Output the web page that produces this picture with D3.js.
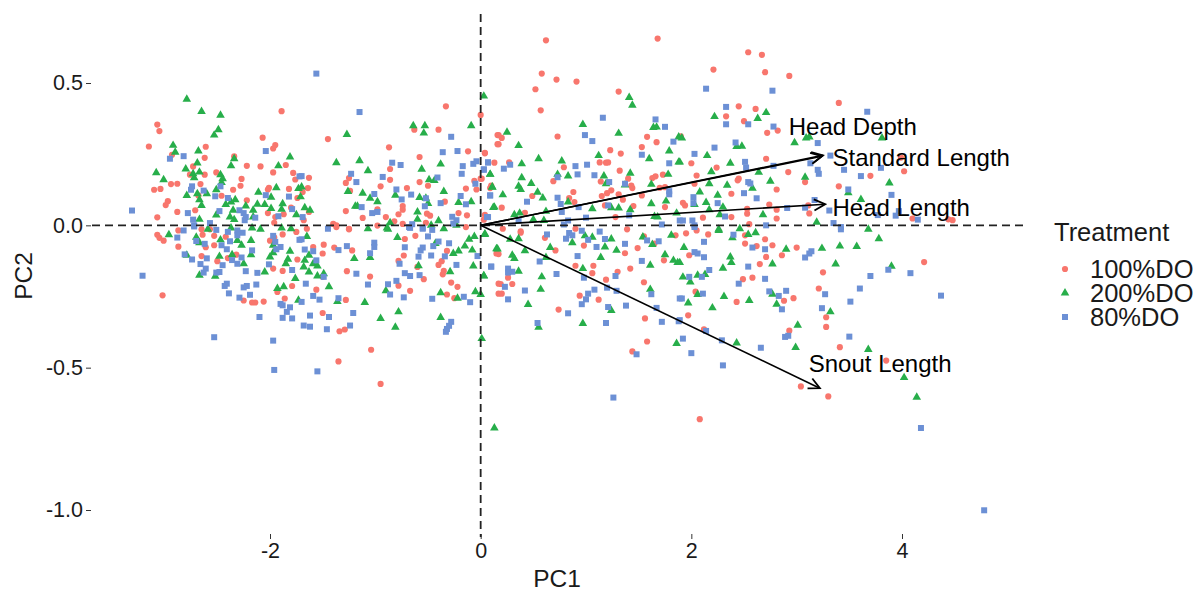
<!DOCTYPE html>
<html>
<head>
<meta charset="utf-8">
<script src="https://d3js.org/d3.v7.min.js"></script>
<style>
  body { margin: 0; background: #fff; }
  text { font-family: "Liberation Sans", Arial, sans-serif; fill: #1a1a1a; }
</style>
</head>
<body>
<div id="chart"></div>
<script>
// PC scores, one array per treatment
var do100 = [
[-3.07,.354],[-3.05,.331],[-3.15,.277],[-2.93,.248],[-2.61,.276],[-2.62,.237],[-1.89,.401],[-2.07,.308],[-1.95,.282],[-1.97,.27],[-2.34,.242],[-2.73,.207],[-2.22,.209],[-2.09,.207],[-1.97,.186],[-1.85,.212],[-1.78,.184],[-1.76,.161],[-2.51,.186],[-2.62,.178],[-2.76,.178],[-2.27,.163],[-2.28,.139],[-2.35,.125],[-2.66,.145],[-2.88,.146],[-2.94,.145],[-3.04,.128],[-3.1,.125],[-2.01,.132],[-2.02,.126],[-1.82,.128],[-1.74,.096],[-2.68,.105],[-2.46,.104],[-2.22,.088],[-2.97,.085],[-2.99,.071],[-2.71,.053],[-2.88,.047],[-3.07,.028],[-1.8,.062],[-2.02,.043],[-1.95,.029],[-1.96,.009],[-1.87,.039],
[-3.07,-.033],[-3.05,-.044],[-3.01,-.054],[-2.87,-.075],[-2.87,-.018],[-3.02,-.246],[-2.65,-.014],[-2.64,-.033],[-2.53,-.037],[-2.61,-.077],[-2.53,-.07],[-2.42,-.04],[-2.65,-.108],[-2.5,-.126],[-2.4,-.115],[-2.32,-.103],[-2,-.054],[-1.96,-.042],[-1.88,-.032],[-1.75,-.023],[-1.74,-.12],[-1.97,-.152],[-1.88,-.16],[-1.79,-.213],[-1.93,-.234],[-1.86,-.257],[-2.25,-.264],[-2.17,-.271],[-2.14,-.271],[-2.06,-.268],[-2.57,-.014],
[-.33,.418],[-.63,.336],[-.4,.336],[-1.45,.303],[-.87,.274],[.16,.317],[.16,.285],[-.12,.26],[.04,.253],[-.58,.24],[-.86,.198],[0,.388],[-1.63,.167],[-1.64,.131],[-1.69,.117],[-1.25,.166],[-1.28,.149],[-1.24,.121],[-.86,.16],[-.95,.137],[-.58,.152],[-.5,.139],[-.7,.131],[-.14,.129],[-.06,.156],[0,.164],[-.04,.126],[.1,.14],[-.98,.056],[-.74,.068],[-.74,.055],[-.78,.039],[-1.28,.05],[-1.12,.026],[-.9,.029],[-.82,.014],[-1.4,.005],[-1.37,0],[-.98,-.001],[-.74,.005],[-.52,.009],[-.51,.041],[-.48,.034],[-.34,.083],[-.21,.043],[-.13,.035],[.04,.037],[-1.63,.047],[-1.68,.018],[-.14,-.006],[-1.25,-.012],[-1.65,-.012],
[-1.37,-.006],[-1.25,-.014],[-.72,-.048],[-.62,-.037],[-1.49,-.068],[-1.59,-.076],[-1.39,-.078],[-1.22,-.088],[-1.5,-.099],[-.32,-.09],[-.78,-.125],[-.73,-.106],[-.6,-.146],[-.4,-.139],[-.37,-.126],[-.35,-.16],[-.36,-.172],[-1.27,-.161],[-1.05,-.18],[-.54,-.189],[-.78,-.212],[-.67,-.23],[-1.56,-.226],[-1.28,-.262],[-1.5,-.308],[-.28,-.201],[-.22,-.216],[-.32,-.243],[-.25,-.256],[-1.34,-.372],[-1.29,-.366],[-1.04,-.437],[-1.35,-.478],[-.95,-.557],[-1.5,-.181],[.17,-.24],[.17,-.205],[.15,-.099],
[.62,.65],[.58,.533],[.72,.512],[.91,.505],[.52,.478],[.57,.404],[1.31,.47],[1.68,.656],[.73,.312],[.17,.317],[.2,.307],[.17,.285],[.04,.255],[.13,.22],[.27,.221],[.01,.164],[.09,.131],[.2,.062],[.42,.044],[.79,.204],[.69,.155],[.49,.103],[.88,.117],[.84,.096],[1.23,.264],[1.33,.252],[1.13,.221],[1.19,.22],[1.21,.221],[1.32,.192],[1.14,.154],[1.4,.164],[1.43,.14],[1.44,.131],[1.24,.123],[1.2,.113],[1.15,.103],[1.31,.109],[1.35,.09],[1.53,.105],[1.18,.07],[1.45,.068],[1.28,.029],[1.58,.311],[1.67,.292],[1.53,.275],[1.63,.166],[1.66,.172],[1.73,.178],[1.7,.132],[1.75,.064],[.03,.02],[.21,-.012],[.38,-.021],[1.39,-.014],[1.75,.134],[.89,.082],
[.38,-.026],[.61,-.044],[.9,-.012],[1.55,-.039],[1.65,-.064],[1.85,-.035],[.71,-.088],[.98,-.071],[1.49,-.08],[1.37,-.098],[.17,-.101],[.9,-.142],[1.07,-.142],[1.06,-.168],[1.3,-.163],[1.42,-.152],[1.74,-.123],[1.19,-.191],[.26,-.184],[.19,-.206],[.3,-.206],[.2,-.24],[.94,-.247],[1.12,-.261],[.74,-.296],[1.55,-.2],[1.56,-.327],[1.58,-.408],[1.44,-.443],
[2.54,.608],[2.67,.599],[2.21,.547],[2.7,.538],[2.93,.525],[3.4,.43],[2.45,.418],[2.61,.409],[2.33,.383],[2.5,.366],[2.72,.325],[2.82,.333],[1.9,.313],[2.71,.234],[2,.218],[2.24,.203],[2.92,.187],[3.08,.152],[3.7,.174],[2.05,.175],[2.45,.164],[2.44,.158],[2.03,.146],[3.4,.137],[2.38,.111],[2.81,.126],[1.92,.079],[2.11,.027],[2.53,.058],[2.53,.041],[2.74,.073],[2.81,.055],[2.81,.024],[2.38,.029],[3.11,.07],[3.12,.042],[2.55,.004],[1.94,.07],
[4.02,.19],[3.99,.238],[4.1,.024],[4.48,.018],[4.44,.021],
[2.86,-.105],[3,-.078],[4.21,-.129],[3.25,-.165],[3.21,-.222],[2.97,-.256],[2.88,-.265],[3.28,-.323],[3.28,-.357],[2.93,-.37],[3.41,-.428],[3.85,-.475],[3.04,-.566],[3.3,-.601],
[1.95,-.028],[2.05,-.018],[2.16,-.032],[2.51,-.035],[2.51,-.064],[2.7,-.049],[2.62,-.073],[2.77,-.07],[2.71,-.111],[2.65,-.136],[1.98,-.105],[2.49,-.189],[2.58,-.184],[2.04,-.233],[2.43,-.269],[1.97,-.316],[2.12,-.365],[2.08,-.681]
];
var do200 = [
[-2.79,.443],[-2.65,.4],[-2.47,.387],[-2.49,.336],[-2.53,.317],[-2.92,.281],[-2.9,.257],[-2.68,.261],[-2.34,.234],[-2.37,.209],[-2.69,.219],[-2.8,.198],[-2.73,.181],[-2.67,.187],[-2.72,.167],[-3.08,.185],[-3.01,.16],[-1.92,.209],[-1.81,.24],[-2.47,.178],[-2.45,.164],[-2.46,.15],[-2.51,.125],[-2.11,.116],[-1.94,.132],[-1.99,.099],[-2.79,.105],[-2.6,.111],[-2.69,.111],[-2.67,.09],[-2.65,.07],[-2.33,.09],[-2.37,.082],[-2.42,.073],[-2.23,.068],[-2.12,.074],[-2.05,.073],[-1.99,.059],[-1.89,.056],[-1.75,.037],[-2.51,.036],[-2.35,.053],[-2.38,.029],[-2.16,.053],[-2.16,.029],[-2.34,.02],[-1.73,.129],[-2.67,.021],[-1.88,.076],
[-2.96,-.033],[-2.7,-.042],[-2.67,-.061],[-2.79,-.105],[-2.67,-.175],[-2.52,-.179],[-2.48,-.109],[-2.47,-.051],[-2.36,-.103],[-2.31,-.053],[-2.27,-.07],[-2.18,-.053],[-2.18,-.103],[-2.25,-.135],[-2.05,-.164],[-2,-.111],[-1.97,-.096],[-1.97,-.07],[-1.81,-.091],[-1.83,-.119],[-1.85,-.135],[-1.76,-.187],[-1.93,-.222],[-1.87,-.216],[-1.73,-.263],[-1.89,-.009],[-1.8,-.012],[-2.09,-.014],[-2.17,-.009],[-2.59,-.014],[-2.37,-.009],
[-1.27,.319],[-.64,.35],[-.53,.35],[-.54,.324],[-.09,.35],[.03,.454],[-1.37,.22],[-1.15,.227],[-1.07,.192],[-.56,.197],[-.38,.215],[.09,.179],[-.49,.16],[-.44,.157],[.11,.135],[-1.26,.119],[-1.12,.113],[-1.05,.095],[-.98,.083],[-.81,.106],[-.58,.098],[-.52,.095],[-.5,.077],[-.35,.119],[-.21,.08],[-.09,.083],[.13,.064],[-1.17,.067],[-1.19,.067],[-.6,.047],[-.6,.021],[-.4,.016],[-.86,.009],[-.89,-.009],[-.47,0],[-.23,0],[-.35,-.012],[-1.07,-.012],[-1.67,.062],[-1.62,.053],[-1.7,.135],[-1.71,.1],
[-.88,-.014],[-.79,-.043],[-1.65,-.039],[-1.63,-.105],[-1.67,-.123],[-1.68,-.146],[-1.63,-.164],[-1.59,-.135],[-1.55,-.143],[-1.55,-.178],[-1.49,-.17],[-1.44,-.216],[-1.2,-.117],[-1.05,-.113],[-1.36,-.268],[-1.1,-.271],[-.9,-.23],[-.78,-.304],[-.95,-.327],[-.81,-.358],[-.38,-.324],[-.59,-.142],[-.29,-.163],[-.38,-.237],[-.22,-.256],[-.05,-.233],[0,-.243],[.03,-.178],[-.07,-.143],[-.26,-.099],[-.21,-.09],[-.15,-.073],[-.08,-.087],[-.11,-.049],[-.06,-.039],[.04,-.032],[.15,-.082],[.01,-.398],[-.43,-.064],
[.25,.327],[.36,.28],[.55,.234],[.39,.216],[.97,.354],[1.31,.323],[1.41,.449],[1.44,.422],[1.64,.344],[1.67,.345],[1.79,.261],[.77,.226],[1.12,.245],[1.6,.234],[1.88,.222],[1.88,.31],[.09,.179],[.11,.134],[.39,.167],[.36,.137],[.38,.126],[.48,.147],[.54,.116],[.59,.096],[.21,.107],[.12,.063],[.32,.037],[.37,.043],[.73,.179],[.83,.173],[.83,.082],[.62,.049],[.5,.02],[.6,.017],[1.06,.058],[1.17,.173],[1.19,.146],[1.37,.142],[1.42,.183],[1.62,.144],[1.78,.179],[1.24,.062],[1.31,.061],[1.42,.055],[1.62,.076],[1.76,.085],[1.65,.031],[1.68,.029],[1.86,.043],
[.04,-.03],[.28,-.049],[.36,-.047],[.16,-.083],[.42,-.089],[.3,-.105],[.32,-.117],[.66,-.078],[.62,-.113],[.87,-.061],[.99,-.037],[1.06,-.042],[1.24,-.048],[1.18,-.076],[1.29,-.088],[1.14,-.113],[1.54,-.041],[1.63,-.067],[1.81,-.035],[1.75,-.103],[1.83,-.123],[1.87,-.131],[1.61,-.14],[.36,-.161],[.03,-.177],[.58,-.181],[.57,-.225],[.45,-.278],[.97,-.152],[1.61,-.225],[1.24,-.299],[.97,-.345],[.55,-.358],[1.86,-.415],[.13,-.712],
[2.22,.382],[2.63,.375],[2.71,.396],[2.98,.29],[3.09,.307],[3.12,.31],[2.43,.277],[2.48,.278],[2.15,.245],[1.89,.222],[2.37,.218],[1.91,.307],[2.19,.188],[2.64,.186],[2.75,.155],[2.17,.146],[2.34,.141],[2.08,.117],[2.25,.106],[2.58,.13],[3.08,.169],[3.49,.114],[3.61,.091],[2.14,.08],[2.03,.073],[2.3,.064],[2.17,.055],[2.27,.037],[2.68,.037],[3.19,.011],[2.26,-.014],[2.46,-.012],[3.68,-.014],
[3.81,.307],[3.88,.149],
[3.78,-.047],[2.9,-.084],[3.24,-.081],[3.41,-.073],[3.57,-.074],[3.37,-.136],[3.9,-.144],[3.32,-.304],[3.01,-.351],[2.99,-.429],[3.68,-.436],[4.02,-.535],[4.14,-.604],
[2.26,-.018],[2.39,-.044],[2.54,-.032],[2.61,-.026],[1.93,-.078],[2.37,-.111],[2.38,-.131],[2.3,-.151],[1.89,-.131],[2.77,-.136],[1.92,-.182],[2.06,-.175],[2.13,-.173],[1.99,-.199],[2.06,-.243],[2.31,-.25],[1.97,-.273],[2.2,-.29],[2.55,-.264],[2.77,-.242],[2.81,-.277],[2.43,-.413]
];
var do80 = [
[-2.95,.234],[-2.82,.243],[-2.04,.261],[-2.74,.137],[-2.75,.125],[-2.63,.122],[-2.47,.137],[-2.52,.102],[-2.4,.096],[-2.04,.106],[-1.82,.101],[-3.31,.052],[-2.78,.043],[-2.73,.02],[-2.48,.05],[-2.29,.053],[-2.25,.043],[-2.23,.029],[-2.24,.018],[-2.14,.027],[-1.92,.032],[-1.79,.057],[-2.57,.008],[-2.72,0],[-1.72,.172],
[-2.88,-.043],[-2.82,-.018],[-2.7,-.055],[-2.62,-.065],[-2.51,-.016],[-2.72,-.004],[-2.4,-.023],[-2.31,-.018],[-2.26,-.026],[-2.31,-.035],[-2.38,-.056],[-2.46,-.07],[-2.41,-.084],[-2.17,-.088],[-2.81,-.102],[-2.74,-.12],[-2.6,-.116],[-2.66,-.136],[-2.61,-.152],[-2.63,-.166],[-3.21,-.177],[-2.45,-.14],[-2.27,-.113],[-2.31,-.135],[-2.36,-.122],[-2.23,-.161],[-2.12,-.167],[-2.51,-.166],[-2.48,-.164],[-2.43,-.213],[-2.41,-.205],[-2.25,-.218],[-2.22,-.213],[-2.13,-.208],[-2.39,-.239],[-2.19,-.244],[-2.29,-.254],[-2.1,-.322],[-2.53,-.393],[-1.97,-.405],[-1.96,-.508],[-2.01,-.137],[-1.9,-.076],[-1.94,-.084],[-1.97,-.037],[-1.95,-.058],[-1.79,-.157],[-1.9,-.276],[-1.88,-.281],[-1.81,-.288],[-1.84,-.304],[-1.88,-.325],[-1.79,-.327],[-1.72,-.051],
[-1.56,.533],[-1.15,.398],[-.28,.311],[-.36,.257],[-.22,.261],[-.84,.22],[-.76,.212],[-1.23,.181],[-1.18,.152],[-.93,.17],[-1.7,.173],[-.8,.126],[-1.01,.11],[-.75,.091],[-.66,.108],[-.52,.095],[-.53,.067],[-.41,.168],[-.17,.208],[-.18,.181],[-.07,.216],[-.04,.225],[.07,.221],[.03,.197],[-.05,.146],[-.19,.103],[.09,.105],[-.14,.074],[-.38,.078],[-1.13,.064],[-1.03,.043],[-.98,.047],[-.27,.03],[-.23,.018],[-.26,.006],[.07,.029],[-1.69,.029],[-.65,.004],[-.68,-.006],[-.55,-.009],[-1.45,-.012],
[-1.7,-.049],[-1.59,-.091],[-1.67,-.085],[-1.35,-.087],[-1.27,-.073],[-1.56,-.123],[-1.18,-.17],[-1.49,-.181],[-1.66,-.205],[-1.59,-.248],[-1.53,-.261],[-1.7,-.269],[-1.35,-.256],[-1.07,-.208],[-.88,-.207],[-.8,-.195],[-.86,-.243],[-.73,-.253],[-1.01,-.061],[-1.01,-.076],[-1.05,-.098],[-.72,-.077],[-.77,-.135],[-.59,-.11],[-.57,-.088],[-.55,-.078],[-.5,-.039],[-.45,-.073],[-.4,-.057],[-.47,-.106],[-.34,-.109],[-.3,-.063],[-.23,-.139],[-.72,-.168],[-.67,-.178],[-.58,-.175],[-.03,-.108],[.1,-.145],[-.46,-.258],[-.16,-.251],[-.1,-.27],[-1.62,-.317],[-1.44,-.322],[-1.21,-.308],[-1.68,-.352],[-1.62,-.356],[-1.46,-.365],[-1.24,-.352],[-.28,-.339],[-.3,-.353],[-.32,-.364],[-.33,-.374],[-1.55,-.513],[-.55,-.012],[-.46,-.016],[-.67,-.009],
[1.16,.378],[.99,.317],[1.06,.296],[1.66,.372],[1.75,.346],[1.83,.294],[1.53,.248],[1.79,.218],[.07,.221],[.03,.195],[.28,.213],[.22,.199],[.73,.169],[.9,.208],[1.01,.213],[.92,.179],[1.08,.176],[1.22,.152],[1.37,.146],[.09,.105],[.44,.083],[.73,.097],[.76,.075],[.77,.047],[.93,.064],[1.79,.12],[1.79,.109],[1.21,.07],[.06,.029],[.36,.017],[.83,.017],[.79,.003],[1,.027],[1.41,.035],[1.72,.003],[1.89,.017],
[.63,-.032],[.84,-.027],[.87,-.035],[.81,-.047],[.96,-.019],[1.02,-.051],[1.13,-.022],[1.18,-.048],[1.37,-.065],[1.1,-.076],[1.58,-.053],[1.69,-.056],[.92,-.108],[.56,-.127],[1.53,-.125],[.1,-.145],[.26,-.152],[.3,-.163],[.26,-.166],[.72,-.171],[1.28,-.178],[.98,-.184],[.23,-.216],[.42,-.229],[.26,-.26],[1.08,-.226],[1.02,-.24],[1,-.26],[.96,-.277],[1.2,-.219],[1.29,-.23],[1.62,-.242],[1.38,-.282],[1.21,-.287],[1.67,-.29],[.83,-.309],[.54,-.343],[1.19,-.343],[1.72,-.339],[1.48,-.453],[1.26,-.605],[1.89,-.257],[1.88,-.337],
[2.14,.48],[2.77,.473],[2.33,.416],[2.33,.355],[2.54,.355],[2.78,.347],[3.67,.399],[3.2,.289],[2.42,.291],[2.22,.273],[2.03,.251],[2.51,.223],[2.52,.203],[2.78,.209],[3.13,.218],[3.32,.245],[3.2,.195],[3.21,.181],[3.45,.195],[3.61,.173],[2.54,.152],[2.56,.147],[2.5,.113],[2.62,.095],[2.02,.099],[2.02,.078],[2.25,.078],[3.49,.126],[3.17,.089],[2.91,.061],[3.08,.062],[3.31,.052],[1.92,.017],[2.01,.017],[2.32,.031],[2.03,0],[2.71,0],[3.35,.008],[3.42,-.006],
[3.8,.202],[3.9,.107],[3.97,.05],[3.94,.034],[3.77,.036],[4.15,.02],
[3.42,-.014],[3.14,-.091],[3.12,-.099],[3.08,-.113],[3.7,-.178],[3.87,-.156],[4.08,-.168],[3.6,-.222],[3.27,-.242],[2.9,-.23],[3.51,-.268],[4.37,-.247],[3.24,-.291],[2.86,-.295],[3.5,-.391],[2.92,-.388],[2.89,-.392],[4.18,-.712],[4.78,-1.001],
[2.03,-.006],[2.4,-.033],[2.12,-.058],[2.58,-.078],[2.7,-.084],[2.03,-.094],[2.06,-.099],[2.12,-.112],[2.54,-.145],[2.17,-.157],[1.98,-.181],[2.1,-.181],[2.7,-.188],[2.45,-.205],[2.74,-.232],[2.83,-.248],[2.11,-.24],[1.91,-.257],[2.14,-.371],[1.92,-.398],[2.29,-.404],[2,-.449],[2.3,-.492],[2.66,-.43],[1.89,-.333]
];

var treatments = ["100%DO", "200%DO", "80%DO"];
var treatmentColors = ["#F8766D", "#27AE4A", "#6C90D5"];
var treatmentData = [do100, do200, do80];

// loadings
var loadingNames = ["Head Depth", "Standard Length", "Head Length", "Snout Length"];
var loadingPC1 = [3.24, 3.25, 3.27, 3.22];
var loadingPC2 = [0.243, 0.246, 0.074, -0.572];
var labelPC1 = [2.925, 3.34, 3.34, 3.115];
var labelPC2 = [0.316, 0.207, 0.032, -0.516];

var xTicks = [-2, 0, 2, 4];
var yTicks = [-1, -0.5, 0, 0.5];

var width = 1201, height = 590;

// -2 -> 270, 4 -> 902 ; 0.5 -> 83, -1 -> 510
var x = d3.scaleLinear().domain([-2, 4]).range([270, 902]);
var y = d3.scaleLinear().domain([-1, 0.5]).range([510, 83]);

var svg = d3.select("#chart").append("svg")
    .attr("width", width)
    .attr("height", height)
    .style("display", "block");

var defs = svg.append("defs");
defs.append("marker")
    .attr("id", "arrow")
    .attr("viewBox", "-12 -7 14 14")
    .attr("markerUnits", "userSpaceOnUse")
    .attr("markerWidth", 14)
    .attr("markerHeight", 14)
    .attr("orient", "auto")
    .append("path")
    .attr("d", "M-11,-5.5L0,0L-11,5.5")
    .attr("fill", "none")
    .attr("stroke", "#000")
    .attr("stroke-width", 1.8);

// axes, only tick marks and labels (R style hyphen for negatives)
var xAxis = svg.append("g")
    .attr("transform", "translate(0,534)")
    .call(d3.axisBottom(x).tickValues(xTicks).tickSize(5).tickPadding(4).tickFormat(d => String(d)));
xAxis.select(".domain").remove();
xAxis.selectAll("text").attr("font-size", 21.5).style("font-family", "Liberation Sans");
xAxis.selectAll("line").attr("stroke", "#333");

var yAxis = svg.append("g")
    .attr("transform", "translate(91,0)")
    .call(d3.axisLeft(y).tickValues(yTicks).tickSize(5).tickPadding(3).tickFormat(d => d.toFixed(1)));
yAxis.select(".domain").remove();
yAxis.selectAll("text").attr("font-size", 21.5).style("font-family", "Liberation Sans");
yAxis.selectAll("line").attr("stroke", "#333");

// points
var symbolTypes = [d3.symbolCircle, d3.symbolTriangle, d3.symbolSquare];
var symbolSizes = [30, 32, 36];
treatmentData.forEach(function(rows, i) {
  var sym = d3.symbol().type(symbolTypes[i]).size(symbolSizes[i]);
  svg.append("g").selectAll("path")
      .data(rows)
      .join("path")
      .attr("d", sym)
      .attr("fill", treatmentColors[i])
      .attr("transform", d => "translate(" + x(d[0]) + "," + y(d[1]) + ")");
});

// zero lines
svg.append("line")
    .attr("x1", 92).attr("x2", 1028)
    .attr("y1", y(0)).attr("y2", y(0))
    .attr("stroke", "#222").attr("stroke-width", 1.8).attr("stroke-dasharray", "8,5");
svg.append("line")
    .attr("x1", x(0)).attr("x2", x(0))
    .attr("y1", 14).attr("y2", 537)
    .attr("stroke", "#222").attr("stroke-width", 1.8).attr("stroke-dasharray", "8,5");

// loading arrows
svg.append("g").selectAll("line")
    .data(loadingNames)
    .join("line")
    .attr("x1", x(0)).attr("y1", y(0))
    .attr("x2", (d, i) => x(loadingPC1[i]))
    .attr("y2", (d, i) => y(loadingPC2[i]))
    .attr("stroke", "#000")
    .attr("stroke-width", 1.6)
    .attr("marker-end", "url(#arrow)");

svg.append("g").selectAll("text")
    .data(loadingNames)
    .join("text")
    .attr("x", (d, i) => x(labelPC1[i]))
    .attr("y", (d, i) => y(labelPC2[i]))
    .attr("font-size", 24)
    .style("fill", "#000")
    .text(d => d);

// axis titles
svg.append("text").attr("x", 557).attr("y", 587)
    .attr("text-anchor", "middle").attr("font-size", 24.5).text("PC1");
svg.append("text").attr("transform", "translate(32,276) rotate(-90)")
    .attr("text-anchor", "middle").attr("font-size", 24.5).text("PC2");

// legend
svg.append("text").attr("x", 1054).attr("y", 241).attr("font-size", 25.5).text("Treatment");
var legendY = d3.scalePoint().domain(treatments).range([269, 317]);
treatments.forEach(function(t, i) {
  svg.append("path")
      .attr("d", d3.symbol().type(symbolTypes[i]).size(symbolSizes[i])())
      .attr("fill", treatmentColors[i])
      .attr("transform", "translate(1065," + legendY(t) + ")");
  svg.append("text")
      .attr("x", 1090)
      .attr("y", legendY(t) + 9)
      .attr("font-size", 25.5)
      .text(t);
});
</script>
</body>
</html>
